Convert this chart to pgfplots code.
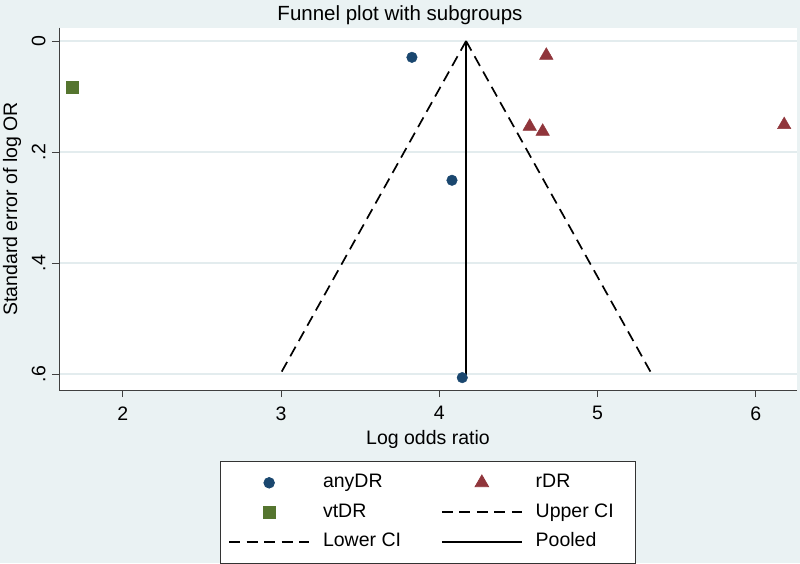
\documentclass[border=0pt]{standalone}
\usepackage{pgfplots}
\pgfplotsset{compat=1.18}
\usepackage{fontspec}
\setmainfont{Liberation Sans}
\definecolor{bgc}{HTML}{EAF2F3}
\definecolor{gridc}{HTML}{E3ECEE}
\definecolor{sNavy}{HTML}{1A476F}
\definecolor{sMaroon}{HTML}{90353B}
\definecolor{sGreen}{HTML}{55752F}
\begin{document}
\begin{tikzpicture}[font=\fontsize{19.5}{23}\selectfont]
\fill[bgc] (0,0) rectangle (800pt,563pt);
\useasboundingbox (0,0) rectangle (800pt,563pt);
\begin{axis}[
  at={(59pt,173pt)}, anchor=south west,
  scale only axis, width=738pt, height=362.3pt,
  xmin=1.597, xmax=6.26, ymin=-0.024, ymax=0.629,
  y dir=reverse,
  axis background/.style={fill=white},
  axis x line*=bottom, axis y line*=left,
  axis line style={black!75, line width=0.9pt},
  tick align=outside, major tick length=7pt,
  tick style={black!75, line width=0.8pt},
  xtick={2,3,4,5,6}, xticklabels={2,3,4,5,6},
  xticklabel style={yshift=-6pt},
  ytick={0,0.2,0.4,0.6}, yticklabels={0,.2,.4,.6},
  yticklabel style={xshift=-3pt, rotate=90, anchor=south},
  ymajorgrids, grid style={gridc, line width=1.2pt},
  clip=false,
  legend columns=2,
  legend cell align=left,
  legend style={at={(0.5,-0.195)}, anchor=north, draw=black!80, line width=0.8pt, fill=white,
    inner xsep=7.5pt, inner ysep=10.5pt,
    nodes={inner sep=0pt, text height=16pt, text depth=6.5pt},
    row sep=7pt,
    /tikz/every odd column/.style={column sep=13pt},
    /tikz/every even column/.style={column sep=26pt}},
]
\addplot[only marks, mark=*, mark size=5.3pt, color=sNavy,
  legend image code/.code={\draw[mark repeat=2,mark phase=2] plot coordinates {(0pt,0pt) (40pt,0pt) (80pt,0pt)};}]
  coordinates {(3.827,0.0294) (4.080,0.251) (4.145,0.6067)};
\addlegendentry{\makebox[92pt][l]{anyDR}}
\addplot[only marks, mark=triangle*, mark size=7.8pt, color=sMaroon,
  legend image code/.code={\draw[mark repeat=2,mark phase=2] plot coordinates {(0pt,0pt) (40pt,0pt) (80pt,0pt)};}]
  coordinates {(4.676,0.026) (4.571,0.154) (4.653,0.163) (6.179,0.151)};
\addlegendentry{\makebox[92pt][l]{rDR}}
\addplot[only marks, mark=square*, mark size=6.1pt, color=sGreen,
  legend image code/.code={\draw[mark repeat=2,mark phase=2] plot coordinates {(0pt,0pt) (40pt,0pt) (80pt,0pt)};}]
  coordinates {(1.681,0.0829)};
\addlegendentry{\makebox[92pt][l]{vtDR}}
\addplot[black, line width=1.7pt, dash pattern=on 11pt off 6.5pt,
  legend image code/.code={\draw (0pt,0pt) -- (80pt,0pt);}]
  coordinates {(4.169,0) (5.338,0.598)};
\addlegendentry{\makebox[92pt][l]{Upper CI}}
\addplot[black, line width=1.7pt, dash pattern=on 11pt off 6.5pt,
  legend image code/.code={\draw (0pt,0pt) -- (80pt,0pt);}]
  coordinates {(4.169,0) (3.0,0.598)};
\addlegendentry{\makebox[92pt][l]{Lower CI}}
\addplot[black, line width=1.7pt,
  legend image code/.code={\draw (0pt,0pt) -- (80pt,0pt);}]
  coordinates {(4.169,0) (4.169,0.602)};
\addlegendentry{\makebox[92pt][l]{Pooled}}
\end{axis}
\node[font=\fontsize{20.5}{24}\selectfont, anchor=base] at (400pt,542.3pt) {Funnel plot with subgroups};
\node[anchor=base] at (428pt,118.7pt) {Log odds ratio};
\node[rotate=90, anchor=base] at (17pt,354pt) {Standard error of log OR};
\end{tikzpicture}
\end{document}
